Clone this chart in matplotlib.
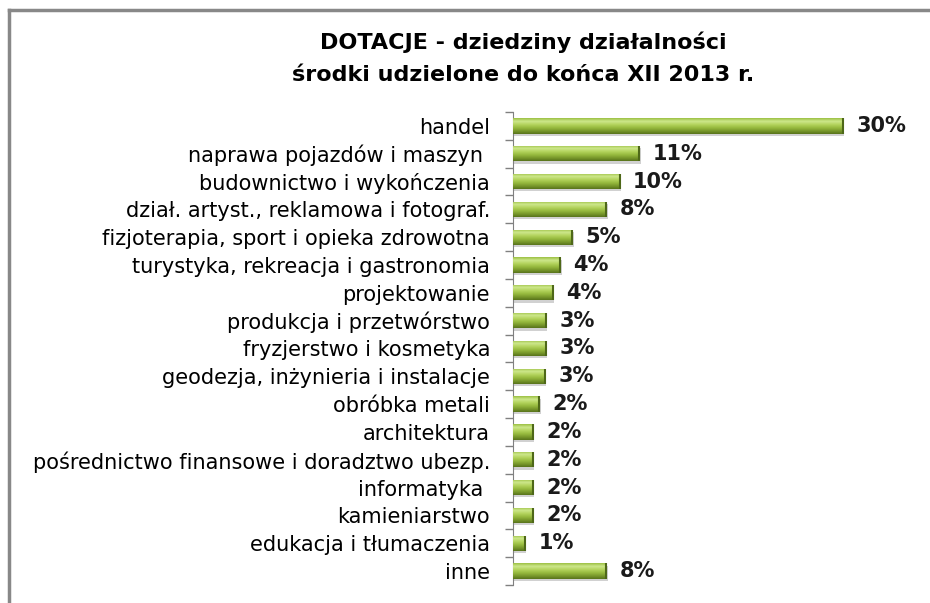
import numpy as np
import matplotlib.pyplot as plt
from matplotlib.colors import LinearSegmentedColormap

plt.rcParams['font.family'] = ['DejaVu Sans']

categories = [
    "handel",
    "naprawa pojazdów i maszyn ",
    "budownictwo i wykończenia",
    "dział. artyst., reklamowa i fotograf.",
    "fizjoterapia, sport i opieka zdrowotna",
    "turystyka, rekreacja i gastronomia",
    "projektowanie",
    "produkcja i przetwórstwo",
    "fryzjerstwo i kosmetyka",
    "geodezja, inżynieria i instalacje",
    "obróbka metali",
    "architektura",
    "pośrednictwo finansowe i doradztwo ubezp.",
    "informatyka ",
    "kamieniarstwo",
    "edukacja i tłumaczenia",
    "inne",
]
values = [30.0, 11.5, 9.7, 8.5, 5.4, 4.3, 3.6, 3.0, 3.0, 2.9, 2.4, 1.8, 1.8, 1.8, 1.8, 1.1, 8.5]
labels = ["30%", "11%", "10%", "8%", "5%", "4%", "4%", "3%", "3%", "3%",
          "2%", "2%", "2%", "2%", "2%", "1%", "8%"]

fig = plt.figure(figsize=(9.3, 6.03), dpi=100)
ax = fig.add_axes([0.5516, 0.0299, 0.414, 0.7844])

y = np.arange(len(categories))
# soft shadow under bars
ax.barh(y + 0.08, values, height=0.55, left=0.12, color="#000000", alpha=0.18,
        edgecolor="none", zorder=1)
bars = ax.barh(y, values, height=0.55, color="#8DB33A", edgecolor="none", zorder=2)

# bevel-like vertical gradient inside each bar (light top, dark bottom)
cmap = LinearSegmentedColormap.from_list(
    "bev", ["#9CC043", "#CDE78C", "#B4D45E", "#98BB40", "#7A9A2C", "#58731B"])
grad = np.linspace(0, 1, 64).reshape(-1, 1)
for b in bars:
    x0, y0 = b.get_x(), b.get_y()
    w, h = b.get_width(), b.get_height()
    im = ax.imshow(grad, cmap=cmap, aspect="auto", extent=(x0, x0 + w, y0 + h, y0),
                   zorder=3, interpolation="bilinear")
    im.set_clip_path(b)
    ax.plot([x0 + w, x0 + w], [y0, y0 + h], color="#4E6818", lw=1.5, zorder=4,
            solid_capstyle="butt")

for yi, v, lab in zip(y, values, labels):
    ax.text(v + 1.2, yi, lab, va="center", ha="left", fontsize=15,
            fontweight="bold", color="#1a1a1a")

ax.set_xlim(0, 35)
ax.set_ylim(len(categories) - 0.5, -0.5)
ax.set_yticks(y)
ax.set_yticklabels(categories, fontsize=15)
ax.tick_params(axis="y", which="major", length=0, pad=16.5)
ax.set_yticks(np.arange(len(categories) + 1) - 0.5, minor=True)
ax.tick_params(axis="y", which="minor", length=6, color="#808080", width=1)
ax.set_xticks([])
for s in ["top", "right", "bottom"]:
    ax.spines[s].set_visible(False)
ax.spines["left"].set_color("#808080")

fig.text(0.563, 0.93, "DOTACJE - dziedziny działalności", ha="center", va="center",
         fontsize=16, fontweight="bold")
fig.text(0.563, 0.875, "środki udzielone do końca XII 2013 r.", ha="center", va="center",
         fontsize=16, fontweight="bold")

# chart frame (top and left edges visible)
fig.add_artist(plt.Line2D([0.0097, 1.0], [0.984, 0.984], color="#888888", lw=2.5,
                          transform=fig.transFigure))
fig.add_artist(plt.Line2D([0.0097, 0.0097], [0.0, 0.984], color="#888888", lw=2.5,
                          transform=fig.transFigure))

fig.savefig("out.png", dpi=100)
